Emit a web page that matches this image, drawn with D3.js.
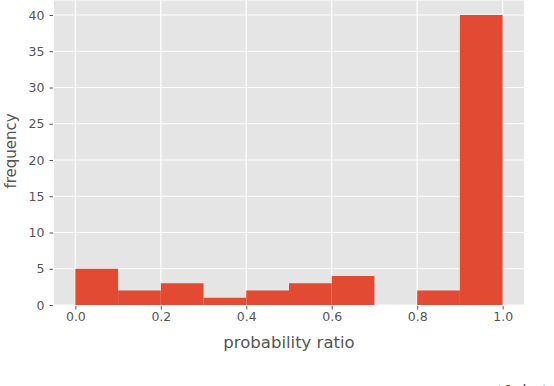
<!DOCTYPE html>
<html lang="en">
<head>
<meta charset="UTF-8">
<title>probability ratio histogram</title>
<script src="https://cdnjs.cloudflare.com/ajax/libs/d3/7.8.5/d3.min.js"></script>
<style>
  body { margin: 0; background: #fff; }
  svg { display: block; font-family: 'DejaVu Sans', sans-serif; }
</style>
</head>
<body>
<svg id="chart" width="554" height="386"></svg>
<script>
// histogram bins (left edges) and counts
const binEdges = [0.0, 0.1, 0.2, 0.3, 0.4, 0.5, 0.6, 0.7, 0.8, 0.9];
const counts = [5, 2, 3, 1, 2, 3, 4, 0, 2, 40];
const binWidth = 0.1;
const xTicks = [0.0, 0.2, 0.4, 0.6, 0.8, 1.0];
const yTicks = [0, 5, 10, 15, 20, 25, 30, 35, 40];

const svg = d3.select("#chart");
const plotL = 54, plotR = 524, plotT = 0.5, plotB = 305;

const x = d3.scaleLinear().domain([-0.05, 1.05]).range([plotL, plotR]);
const y = d3.scaleLinear().domain([0, 42]).range([plotB, plotT]);

// panel background
svg.append("rect")
  .attr("x", plotL).attr("y", plotT)
  .attr("width", plotR - plotL).attr("height", plotB - plotT)
  .attr("fill", "#E5E5E5");

// grid
svg.append("g").selectAll("line").data(xTicks).join("line")
  .attr("x1", d => x(d)).attr("x2", d => x(d))
  .attr("y1", plotT).attr("y2", plotB)
  .attr("stroke", "#fff").attr("stroke-width", 1.2);
svg.append("g").selectAll("line").data(yTicks).join("line")
  .attr("x1", plotL).attr("x2", plotR)
  .attr("y1", d => y(d)).attr("y2", d => y(d))
  .attr("stroke", "#fff").attr("stroke-width", 1.2);

// bars
svg.append("g").selectAll("rect").data(counts).join("rect")
  .attr("x", (d, i) => x(binEdges[i]))
  .attr("width", x(binWidth) - x(0))
  .attr("y", d => y(d))
  .attr("height", d => y(0) - y(d))
  .attr("fill", "#E24A33");

// axes
const xAxis = d3.axisBottom(x).tickValues(xTicks).tickFormat(d3.format(".1f"))
  .tickSize(3.5).tickPadding(4);
const yAxis = d3.axisLeft(y).tickValues(yTicks).tickFormat(d3.format("d"))
  .tickSize(3.5).tickPadding(6);

const gx = svg.append("g").attr("transform", `translate(0,${plotB})`).call(xAxis);
const gy = svg.append("g").attr("transform", `translate(${plotL},0)`).call(yAxis);
[gx, gy].forEach(g => {
  g.select(".domain").remove();
  g.selectAll(".tick line").attr("stroke", "#555").attr("stroke-width", 1);
  g.selectAll(".tick text").attr("fill", "#555")
    .style("font-size", "12.5px").style("font-family", "'DejaVu Sans', sans-serif");
});
gx.selectAll(".tick line").attr("transform", "translate(0,1)");
gy.selectAll(".tick line").attr("transform", "translate(-1,0)");

// labels
svg.append("text")
  .attr("x", (x(0) + x(1)) / 2).attr("y", 348)
  .attr("text-anchor", "middle")
  .attr("fill", "#555").style("font-size", "16.5px")
  .text("probability ratio");

svg.append("text")
  .attr("transform", "translate(16,151) rotate(-90)")
  .attr("text-anchor", "middle")
  .attr("fill", "#555").style("font-size", "15px")
  .text("frequency");

// caption partly cut off at the bottom edge
svg.append("text")
  .attr("x", 478).attr("y", 398)
  .attr("fill", "#444")
  .style("font-family", "'DejaVu Serif', serif").style("font-style", "italic")
  .style("font-size", "17px")
  .text("N(d\u2096 \u2223 s)");
</script>
</body>
</html>
